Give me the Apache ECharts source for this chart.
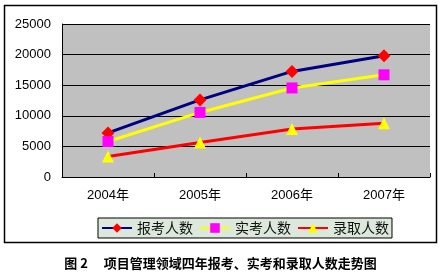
<!DOCTYPE html>
<html><head><meta charset="utf-8">
<script src="https://cdn.jsdelivr.net/npm/echarts@6/dist/echarts.min.js"></script>
<style>html,body{margin:0;padding:0;background:#fff}#c{width:441px;height:272px}</style>
</head><body><div id="c"></div>
<script>
const categories = ['2004年','2005年','2006年','2007年'];
const applied = [7200, 12600, 17250, 19800];
const sat = [5800, 10550, 14550, 16700];
const admitted = [3350, 5650, 7850, 8800];
const seriesNames = ['报考人数','实考人数','录取人数'];
const yTicks = {min:0, max:25000, interval:5000};
const caption = '图 2　 项目管理领域四年报考、实考和录取人数走势图';

const font = '"Liberation Sans", Arial, "Noto Sans CJK SC", sans-serif';
const chart = echarts.init(document.getElementById('c'), null, {renderer:'canvas'});
chart.setOption({
  animation:false,
  backgroundColor:'#fff',
  graphic:[
    {type:'rect', shape:{x:4.5,y:5.5,width:432,height:237}, style:{fill:null, stroke:'#000', lineWidth:1.5}, z:-1}
  ],
  title:{text:caption, left:'center', top:252,
    textStyle:{fontFamily:'"Noto Sans CJK SC", sans-serif', fontWeight:'bold', fontSize:13, color:'#000'}},
  grid:{left:62, right:11, top:24, bottom:95, show:true, backgroundColor:'#c0c0c0', borderWidth:0},
  legend:{
    left:98, top:218, padding:[3,3], itemGap:6, itemWidth:30, itemHeight:12,
    backgroundColor:'#dce8dc', borderColor:'#000', borderWidth:1, borderRadius:0,
    textStyle:{fontFamily:'"Noto Sans CJK SC", sans-serif', fontSize:14, color:'#111'},
    data:seriesNames
  },
  xAxis:{type:'category', data:categories, boundaryGap:true,
    axisLine:{lineStyle:{color:'#000', width:1}},
    axisTick:{show:true, inside:true, length:4, lineStyle:{color:'#000'}},
    axisLabel:{color:'#000', fontFamily:font, fontSize:13, margin:12}
  },
  yAxis:{type:'value', min:yTicks.min, max:yTicks.max, interval:yTicks.interval,
    axisLine:{show:true, lineStyle:{color:'#000', width:1}},
    axisTick:{show:false},
    splitLine:{lineStyle:{color:'#000', width:1}},
    axisLabel:{color:'#000', fontFamily:font, fontSize:13, margin:11, formatter:function(v){return String(v);}}
  },
  series:[
    {name:seriesNames[0], type:'line', data:applied, symbol:'diamond', symbolSize:13,
      lineStyle:{color:'#000080', width:3}, itemStyle:{color:'#ff0000'}},
    {name:seriesNames[1], type:'line', data:sat, symbol:'rect', symbolSize:11,
      lineStyle:{color:'#ffff00', width:3}, itemStyle:{color:'#ff00ff'}},
    {name:seriesNames[2], type:'line', data:admitted, symbol:'triangle', symbolSize:12,
      lineStyle:{color:'#ff0000', width:3}, itemStyle:{color:'#ffff00'}}
  ]
});
</script></body></html>
